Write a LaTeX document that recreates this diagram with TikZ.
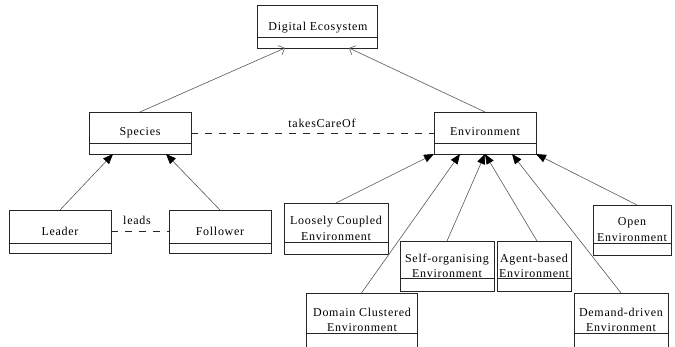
\documentclass[tikz,border=0pt]{standalone}
\usepackage{fontspec}
\setmainfont{Liberation Serif}[LetterSpace=6]
\usetikzlibrary{arrows.meta}
\begin{document}
\begin{tikzpicture}[x=1pt,y=-1pt,
  box/.style={draw=black!85, line width=0.8pt, inner sep=0pt, outer sep=0pt, rectangle},
  div/.style={draw=black!85, line width=0.8pt},
  lbl/.style={font=\fontsize{12}{14}\selectfont, inner sep=0pt, anchor=base, text=black},
  gen/.style={draw=black!65, line width=0.6pt, -{Triangle[length=10pt,width=8pt,fill=black,color=black]}},
  agg/.style={draw=black!65, line width=0.6pt, -{Straight Barb[length=5pt,width=10pt]}},
  assoc/.style={draw=black!85, line width=0.7pt, dash pattern=on 7pt off 7pt}]
\useasboundingbox (0,0) rectangle (675,347);
\clip (0,0) rectangle (675,347);
\fill[white] (0,0) rectangle (675,347);

% Digital Ecosystem
\node[box, minimum width=120pt, minimum height=43pt] (de) at (317,26.5) {};
\draw[div] (de.west |- 0,37) -- (de.east |- 0,37);
\node[lbl] (de-t) at (318,31) {Digital Ecosystem};

% Species
\node[box, minimum width=102pt, minimum height=42pt] (sp) at (140,133) {};
\draw[div] (sp.west |- 0,143) -- (sp.east |- 0,143);
\node[lbl] (sp-t) at (140,136) {Species};

% Environment
\node[box, minimum width=102pt, minimum height=42pt] (env) at (485,133) {};
\draw[div] (env.west |- 0,143) -- (env.east |- 0,143);
\node[lbl] (env-t) at (485,136) {Environment};

% Leader
\node[box, minimum width=102pt, minimum height=43pt] (ld) at (60,231.5) {};
\draw[div] (ld.west |- 0,243) -- (ld.east |- 0,243);
\node[lbl] (ld-t) at (60,236) {Leader};

% Follower
\node[box, minimum width=102pt, minimum height=43pt] (fo) at (220,231.5) {};
\draw[div] (fo.west |- 0,243) -- (fo.east |- 0,243);
\node[lbl] (fo-t) at (220,236) {Follower};

% Loosely Coupled
\node[box, minimum width=104pt, minimum height=51pt] (lc) at (336,228.5) {};
\draw[div] (lc.west |- 0,242) -- (lc.east |- 0,242);
\node[lbl] (lc-t1) at (336,225) {Loosely Coupled};
\node[lbl] (lc-t2) at (336,241) {Environment};

% Self-organising
\node[box, minimum width=94pt, minimum height=50pt] (so) at (447,266) {};
\draw[div] (so.west |- 0,278) -- (so.east |- 0,278);
\node[lbl] (so-t1) at (447,263) {Self-organising};
\node[lbl] (so-t2) at (447,278) {Environment};

% Agent-based
\node[box, minimum width=74pt, minimum height=50pt] (ab) at (534,266) {};
\draw[div] (ab.west |- 0,278) -- (ab.east |- 0,278);
\node[lbl] (ab-t1) at (534,263) {Agent-based};
\node[lbl] (ab-t2) at (534,278) {Environment};

% Open
\node[box, minimum width=78pt, minimum height=50pt] (op) at (632,230) {};
\draw[div] (op.west |- 0,243) -- (op.east |- 0,243);
\node[lbl] (op-t1) at (632,226) {Open};
\node[lbl] (op-t2) at (632,242) {Environment};

% Domain Clustered
\node[box, minimum width=111pt, minimum height=67pt] (dc) at (361.5,326.5) {};
\draw[div] (dc.west |- 0,333) -- (dc.east |- 0,333);
\node[lbl] (dc-t1) at (362,317) {Domain Clustered};
\node[lbl] (dc-t2) at (362,332) {Environment};

% Demand-driven
\node[box, minimum width=94pt, minimum height=67pt] (dd) at (621,326.5) {};
\draw[div] (dd.west |- 0,333) -- (dd.east |- 0,333);
\node[lbl] (dd-t1) at (621,317) {Demand-driven};
\node[lbl] (dd-t2) at (621,332) {Environment};

% connectors
\draw[agg] (sp.north) -- ([xshift=28pt]de.south west);
\draw[agg] (env.north) -- ([xshift=-28pt]de.south east);
\draw[assoc] (sp.east) -- (env.west);
\node[lbl] (tco) at (322,128) {takesCareOf};
\draw[gen] (ld.north) -- ([xshift=24pt]sp.south west);
\draw[gen] (fo.north) -- ([xshift=-25pt]sp.south east);
\draw[assoc] (ld.east) -- (fo.west);
\node[lbl] (lds) at (137,225) {leads};
\draw[gen] (lc.north) -- (env.south west);
\draw[gen] (dc.north) -- ([xshift=26pt]env.south west);
\draw[gen] (so.north) -- (env.south);
\draw[gen] ([xshift=3pt]ab.north) -- (env.south);
\draw[gen] (dd.north) -- ([xshift=-24pt]env.south east);
\draw[gen] ([xshift=5pt]op.north) -- (env.south east);
\end{tikzpicture}
\end{document}
